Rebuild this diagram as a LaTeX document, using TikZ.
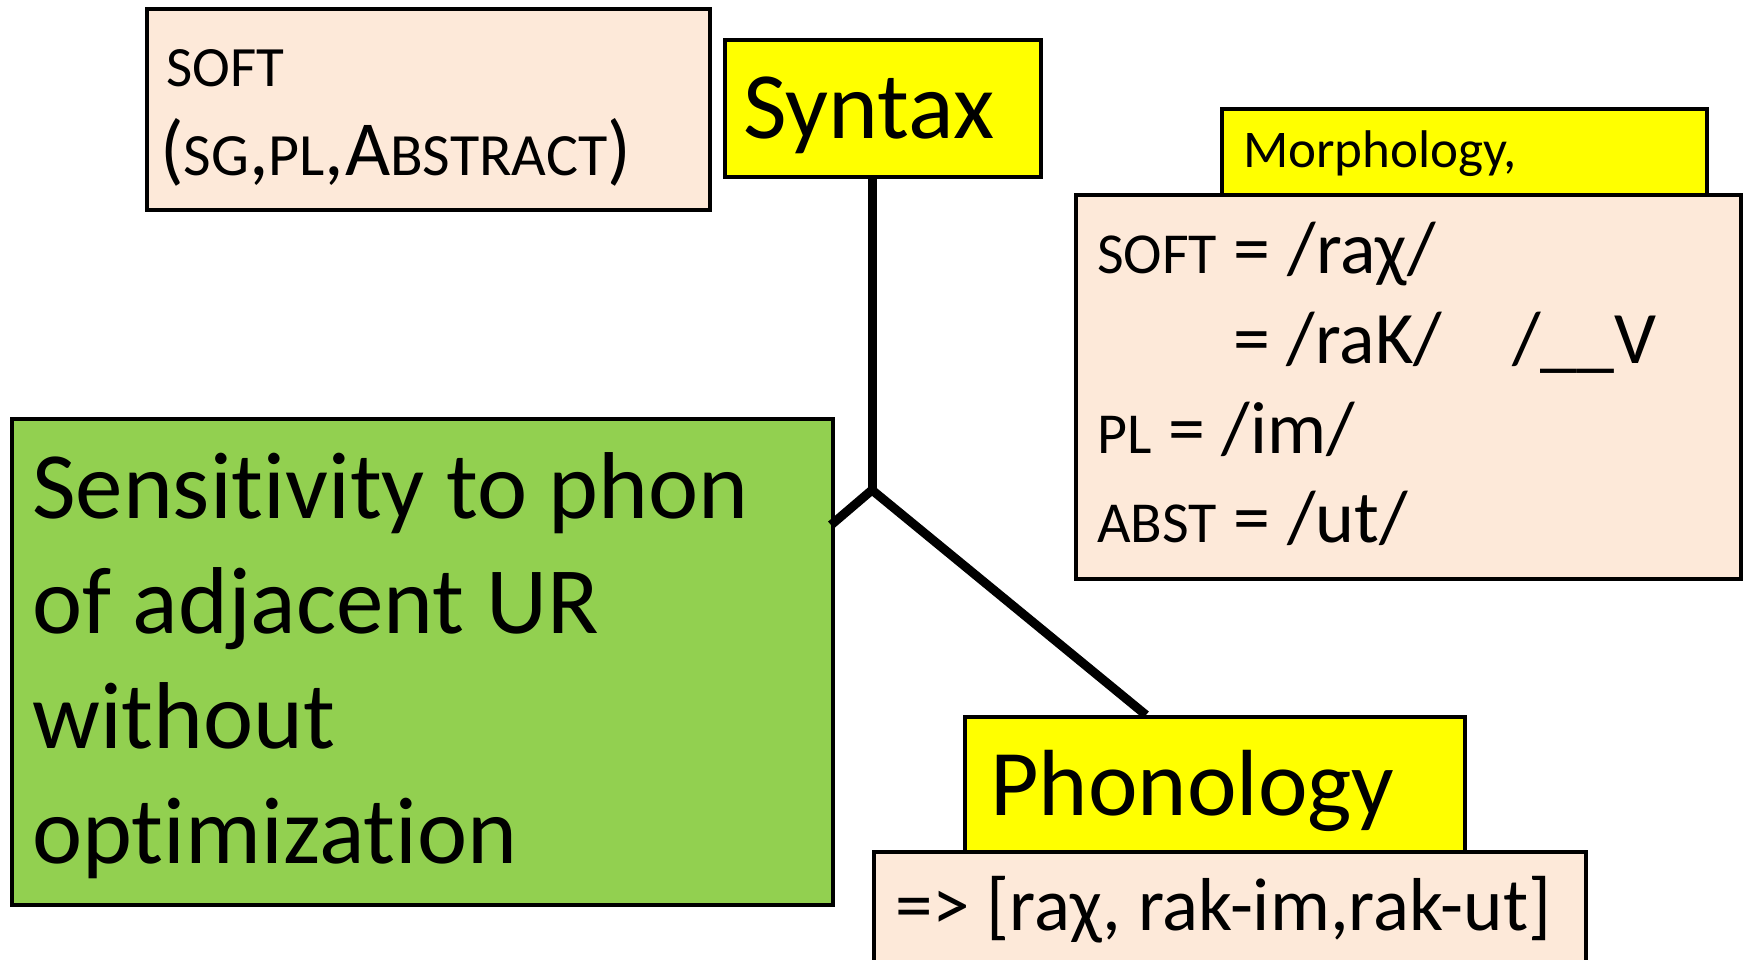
\documentclass[tikz,border=0pt]{standalone}
\usepackage{fontspec}
\setmainfont{Carlito}[Ligatures={NoCommon}]
\definecolor{peachfill}{HTML}{FDE9D9}
\definecolor{greenfill}{HTML}{92D050}
\definecolor{yellowfill}{HTML}{FFFF00}
\newcommand\fsz[1]{\fontsize{#1pt}{#1pt}\selectfont}
\begin{document}
\begin{tikzpicture}[x=1pt,y=-1pt,
  box/.style={draw=black, line width=3.5pt, inner sep=0pt, anchor=north west},
  peach/.style={box, fill=peachfill},
  yel/.style={box, fill=yellowfill},
  grn/.style={box, fill=greenfill},
  txt/.style={anchor=base west, inner sep=0pt},
  tree/.style={draw=black, line width=9pt}]
\useasboundingbox (0,0) rectangle (1745,959);
\clip (0,0) rectangle (1745,959);

% tree connectors
\coordinate (fork) at (872,490);
\coordinate (gend) at (831,525);
\coordinate (pend) at (1146,715);

% boxes
\node[peach, minimum width=563pt, minimum height=201pt] (softbox) at (145,7) {};
\node[yel, minimum width=316pt, minimum height=137pt] (syntax) at (723,38) {};
\node[yel, minimum width=485pt, minimum height=87pt] (morph) at (1220,107) {};
\node[peach, minimum width=665pt, minimum height=384pt] (morphbox) at (1074,193) {};
\node[grn, minimum width=821pt, minimum height=486pt] (green) at (10,417) {};
\node[yel, minimum width=500pt, minimum height=135pt] (phon) at (963,715) {};
\node[peach, minimum width=712pt, minimum height=140pt] (phonbox) at (872,850) {};

\draw[tree] (fork |- syntax.south) -- (fork);
\draw[tree, line join=miter] (gend) -- (fork) -- (pend);

% texts
\node[txt] (softa) at (166,86) {\fsz{57}SOFT};
\node[txt] (softb) at (160,175) {\fsz{78}(\fsz{60}SG\fsz{78},\fsz{60}PL\fsz{78},A\fsz{60}BSTRACT\fsz{78})};
\node[txt] (syntaxt) at (743,138) {\fsz{95}Syntax};
\node[txt] (morpht) at (1243,167) {\fsz{53}Morphology,};
\node[txt] (m1) at (1097,273) {\fsz{58}SOFT\fsz{74} = /raχ/};
\node[txt] (m2) at (1233,363) {\fsz{74}= /raK/\hspace{70pt}/\_\_V};
\node[txt] (m3) at (1097,453) {\fsz{58}PL\fsz{74} = /im/};
\node[txt] (m4) at (1097,542) {\fsz{58}ABST\fsz{74} = /ut/};
\node[txt] (g1) at (32,518) {\fsz{95}Sensitivity to phon};
\node[txt] (g2) at (32,633) {\fsz{95}of adjacent UR};
\node[txt] (g3) at (32,748) {\fsz{95}without};
\node[txt] (g4) at (32,863) {\fsz{95}optimization};
\node[txt] (phont) at (990,815) {\fsz{94}Phonology};
\node[txt] (phonout) at (895,930) {\fsz{75}=> [raχ, rak-im,rak-ut]};
\end{tikzpicture}
\end{document}
